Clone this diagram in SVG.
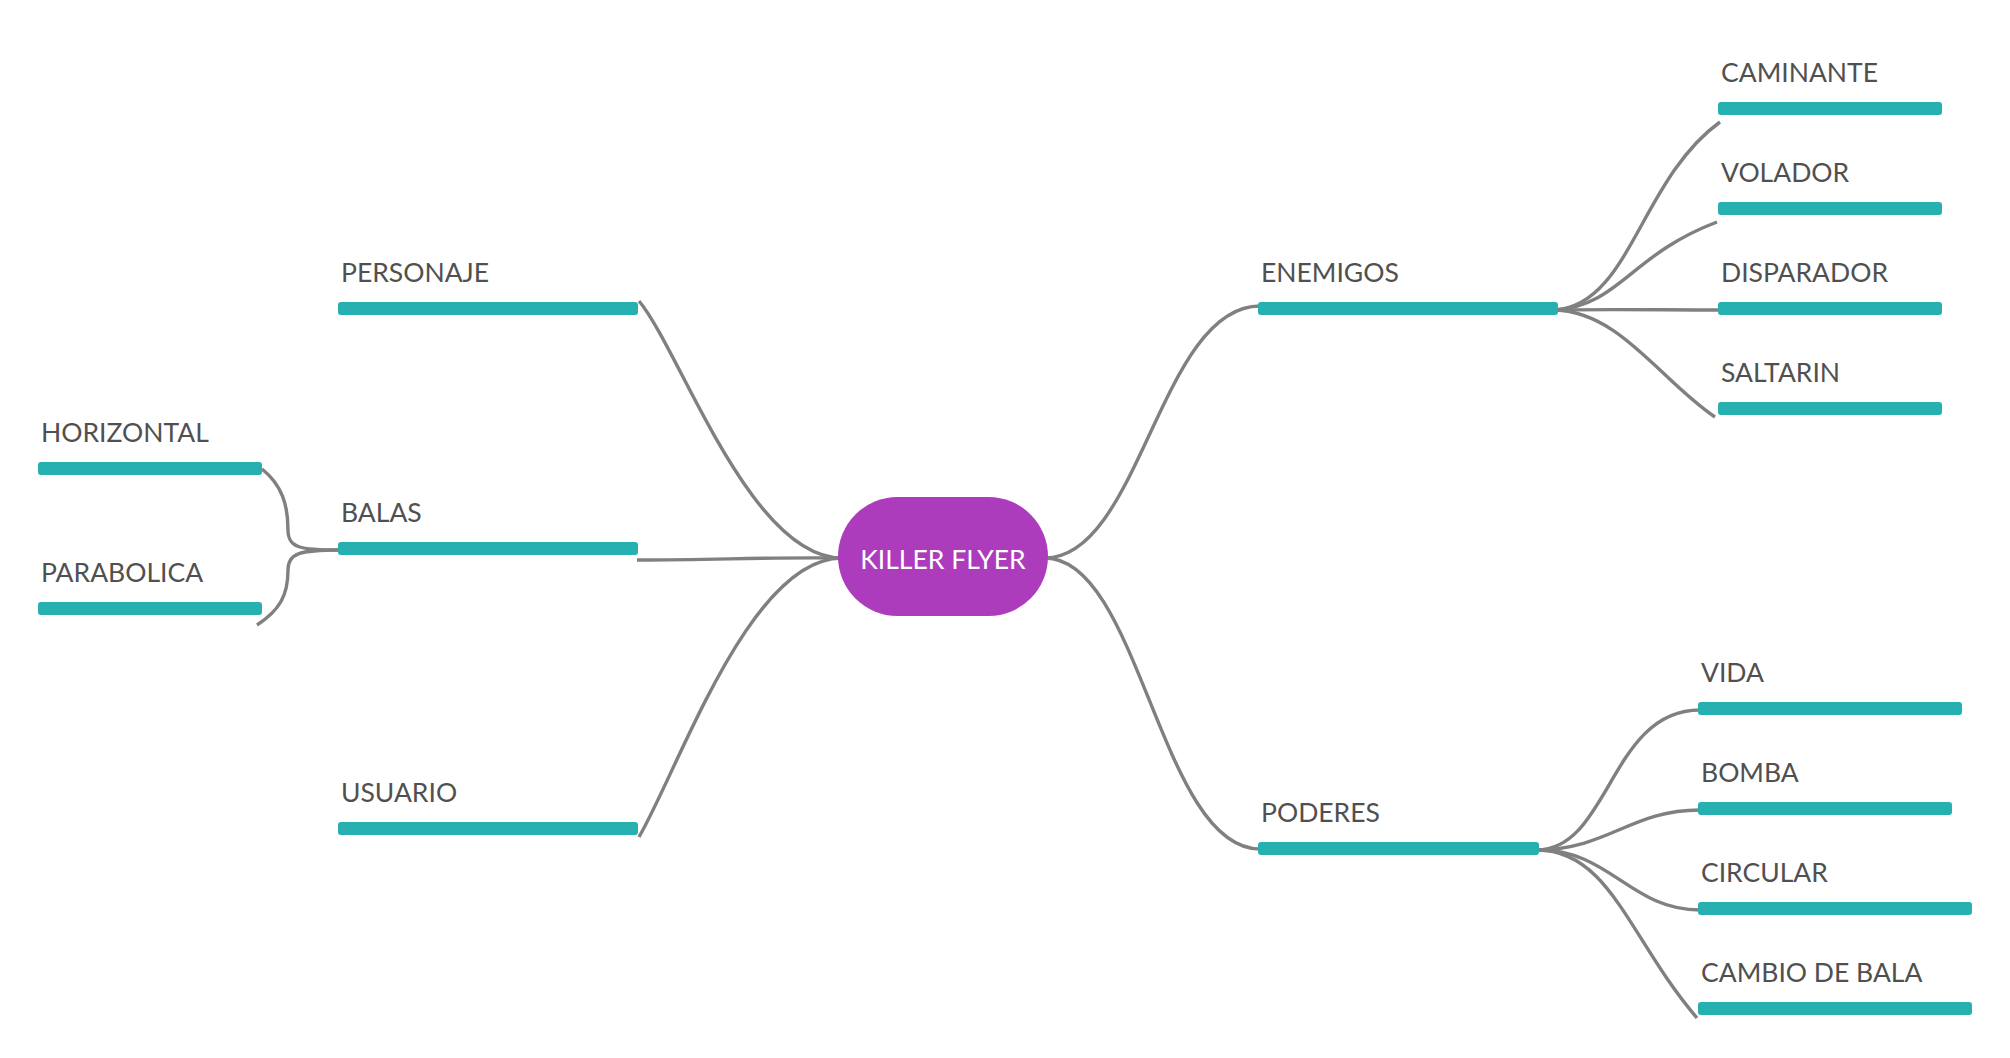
<svg xmlns="http://www.w3.org/2000/svg" width="2010" height="1058" viewBox="0 0 2010 1058">
<style>
.bar{fill:#26b0b0}
.lbl{font-family:Lato,"Open Sans","Liberation Sans",sans-serif;font-size:26.5px;fill:#505050}
.conn path{fill:none;stroke:#808080;stroke-width:3.4;stroke-linecap:butt}
.root-text{font-family:Lato,"Open Sans","Liberation Sans",sans-serif;font-size:26.5px;fill:#ffffff}
</style>
<rect width="2010" height="1058" fill="#ffffff"/>
<g id="connectors" class="conn">
<path d="M842,558 C 750,558 680,350 639,301"/>
<path d="M842,558 C 760,557 720,560 637,560"/>
<path d="M842,558 C 750,558 680,766 639,837"/>
<path d="M1045,558 C 1140,558 1160,306 1260,306"/>
<path d="M1045,558 C 1140,558 1160,849 1260,849"/>
<path d="M340,550 C 300,550 288,548 288,530 C 288,505 282,485 262,469"/>
<path d="M340,550 C 300,550 288,553 288,570 C 288,595 280,610 257,625"/>
<path d="M1555,310 C 1630,305 1640,180 1720,122"/>
<path d="M1555,310 C 1620,305 1630,255 1717,222"/>
<path d="M1555,310 C 1620,309 1660,310 1722,310"/>
<path d="M1555,310 C 1620,312 1660,380 1715,417"/>
<path d="M1537,850 C 1610,849 1610,710 1700,710"/>
<path d="M1537,850 C 1610,849 1630,810 1700,810"/>
<path d="M1537,850 C 1610,849 1630,910 1700,910"/>
<path d="M1537,850 C 1610,850 1630,940 1697,1018"/>
</g>
<g id="root">
<rect x="838" y="497" width="210" height="119" rx="59.5" fill="#ad3cbd"/>
<text class="root-text" x="943" y="569" text-anchor="middle">KILLER FLYER</text>
</g>
<g id="personaje"><rect class="bar" x="338" y="302" width="300" height="13" rx="3"/><text class="lbl" x="341" y="282">PERSONAJE</text></g>
<g id="balas"><rect class="bar" x="338" y="542" width="300" height="13" rx="3"/><text class="lbl" x="341" y="522">BALAS</text></g>
<g id="usuario"><rect class="bar" x="338" y="822" width="300" height="13" rx="3"/><text class="lbl" x="341" y="802">USUARIO</text></g>
<g id="horizontal"><rect class="bar" x="38" y="462" width="224" height="13" rx="3"/><text class="lbl" x="41" y="442">HORIZONTAL</text></g>
<g id="parabolica"><rect class="bar" x="38" y="602" width="224" height="13" rx="3"/><text class="lbl" x="41" y="582">PARABOLICA</text></g>
<g id="enemigos"><rect class="bar" x="1258" y="302" width="300" height="13" rx="3"/><text class="lbl" x="1261" y="282">ENEMIGOS</text></g>
<g id="poderes"><rect class="bar" x="1258" y="842" width="281" height="13" rx="3"/><text class="lbl" x="1261" y="822">PODERES</text></g>
<g id="caminante"><rect class="bar" x="1718" y="102" width="224" height="13" rx="3"/><text class="lbl" x="1721" y="82">CAMINANTE</text></g>
<g id="volador"><rect class="bar" x="1718" y="202" width="224" height="13" rx="3"/><text class="lbl" x="1721" y="182">VOLADOR</text></g>
<g id="disparador"><rect class="bar" x="1718" y="302" width="224" height="13" rx="3"/><text class="lbl" x="1721" y="282">DISPARADOR</text></g>
<g id="saltarin"><rect class="bar" x="1718" y="402" width="224" height="13" rx="3"/><text class="lbl" x="1721" y="382">SALTARIN</text></g>
<g id="vida"><rect class="bar" x="1698" y="702" width="264" height="13" rx="3"/><text class="lbl" x="1701" y="682">VIDA</text></g>
<g id="bomba"><rect class="bar" x="1698" y="802" width="254" height="13" rx="3"/><text class="lbl" x="1701" y="782">BOMBA</text></g>
<g id="circular"><rect class="bar" x="1698" y="902" width="274" height="13" rx="3"/><text class="lbl" x="1701" y="882">CIRCULAR</text></g>
<g id="cambio"><rect class="bar" x="1698" y="1002" width="274" height="13" rx="3"/><text class="lbl" x="1701" y="982">CAMBIO DE BALA</text></g>
</svg>
